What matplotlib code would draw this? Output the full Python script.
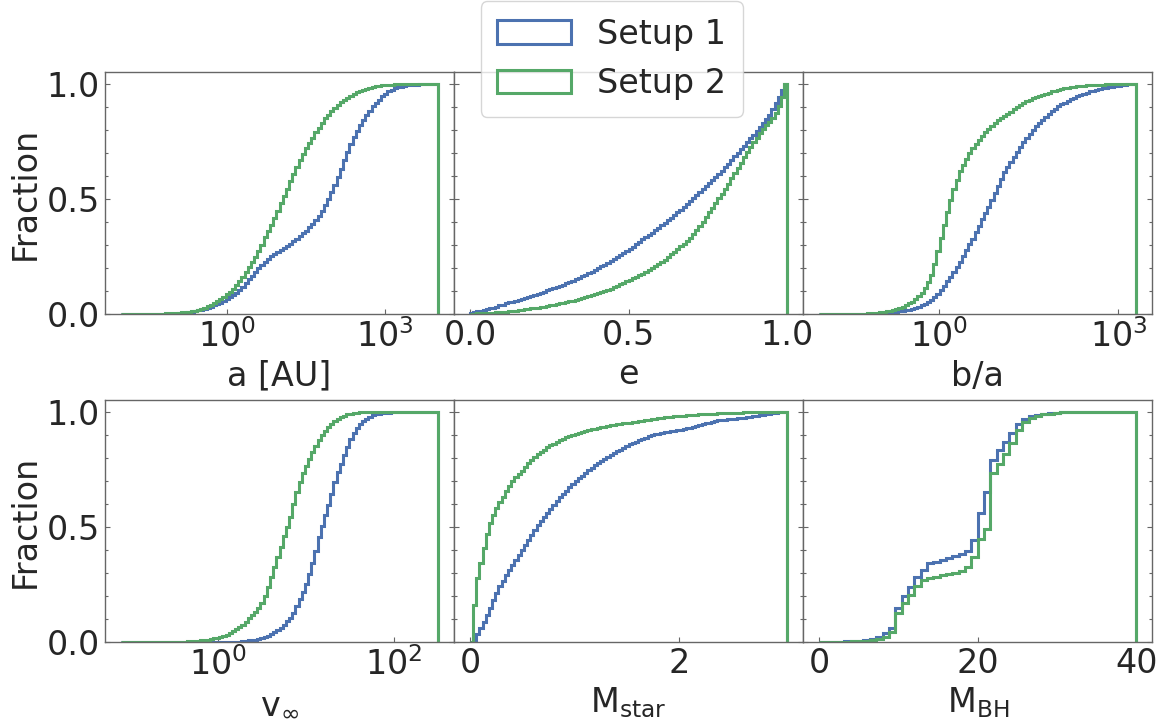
import numpy as np
import matplotlib
matplotlib.use("Agg")
import matplotlib.pyplot as plt
from matplotlib.ticker import MultipleLocator, NullLocator

# ---------------- data (cumulative fraction at the right edge of each bin) ----------------
series_labels = ["Setup 1", "Setup 2"]
series_colors = ["#4C72B0", "#55A868"]

# a [AU]  (log10 bin range, 100 bins)
a_log_range = (-2.0, 4.0)
a_cdf_setup1 = [0.000, 0.000, 0.000, 0.000, 0.000, 0.001, 0.001, 0.001, 0.001, 0.001,
                0.001, 0.002, 0.002, 0.002, 0.002, 0.003, 0.003, 0.004, 0.005, 0.006,
                0.007, 0.009, 0.011, 0.014, 0.018, 0.021, 0.025, 0.029, 0.034, 0.039,
                0.045, 0.051, 0.058, 0.066, 0.075, 0.085, 0.095, 0.106, 0.120, 0.135,
                0.152, 0.168, 0.184, 0.200, 0.215, 0.229, 0.241, 0.252, 0.262, 0.270,
                0.279, 0.288, 0.297, 0.307, 0.317, 0.328, 0.340, 0.352, 0.364, 0.378,
                0.393, 0.408, 0.427, 0.450, 0.475, 0.502, 0.530, 0.562, 0.596, 0.632,
                0.668, 0.705, 0.738, 0.768, 0.796, 0.820, 0.843, 0.864, 0.884, 0.902,
                0.918, 0.932, 0.946, 0.958, 0.967, 0.975, 0.981, 0.985, 0.988, 0.991,
                0.993, 0.995, 0.996, 0.997, 0.998, 0.999, 0.999, 1.000, 1.000, 1.000]
a_cdf_setup2 = [0.000, 0.000, 0.001, 0.001, 0.001, 0.001, 0.002, 0.002, 0.002, 0.003,
                0.003, 0.003, 0.004, 0.004, 0.005, 0.005, 0.006, 0.007, 0.008, 0.009,
                0.010, 0.012, 0.014, 0.017, 0.021, 0.025, 0.030, 0.036, 0.042, 0.048,
                0.058, 0.066, 0.076, 0.087, 0.099, 0.112, 0.126, 0.143, 0.162, 0.184,
                0.205, 0.228, 0.250, 0.275, 0.302, 0.335, 0.362, 0.390, 0.420, 0.450,
                0.482, 0.514, 0.546, 0.578, 0.610, 0.640, 0.668, 0.695, 0.720, 0.745,
                0.767, 0.789, 0.810, 0.830, 0.850, 0.866, 0.881, 0.895, 0.908, 0.920,
                0.931, 0.940, 0.949, 0.956, 0.963, 0.969, 0.974, 0.979, 0.983, 0.986,
                0.989, 0.991, 0.993, 0.995, 0.996, 0.997, 0.998, 0.999, 0.999, 1.000,
                1.000, 1.000, 1.000, 1.000, 1.000, 1.000, 1.000, 1.000, 1.000, 1.000]

# e (linear bin range, 100 bins)
e_range = (0.0, 1.0)
e_cdf_setup1 = [0.008, 0.011, 0.014, 0.017, 0.020, 0.023, 0.026, 0.030, 0.034, 0.039,
                0.043, 0.048, 0.052, 0.056, 0.060, 0.064, 0.068, 0.072, 0.077, 0.081,
                0.085, 0.089, 0.094, 0.099, 0.104, 0.109, 0.114, 0.119, 0.124, 0.129,
                0.135, 0.141, 0.147, 0.153, 0.159, 0.166, 0.172, 0.179, 0.186, 0.193,
                0.200, 0.208, 0.215, 0.223, 0.231, 0.239, 0.247, 0.256, 0.265, 0.274,
                0.284, 0.294, 0.304, 0.315, 0.325, 0.335, 0.345, 0.355, 0.366, 0.376,
                0.387, 0.398, 0.409, 0.420, 0.431, 0.443, 0.455, 0.467, 0.479, 0.492,
                0.504, 0.517, 0.529, 0.542, 0.555, 0.568, 0.581, 0.595, 0.609, 0.624,
                0.639, 0.654, 0.669, 0.685, 0.700, 0.716, 0.732, 0.748, 0.764, 0.780,
                0.796, 0.813, 0.830, 0.848, 0.867, 0.889, 0.915, 0.945, 0.972, 1.000]
e_cdf_setup2 = [0.003, 0.004, 0.005, 0.005, 0.006, 0.007, 0.007, 0.008, 0.009, 0.010,
                0.011, 0.012, 0.013, 0.015, 0.017, 0.019, 0.021, 0.023, 0.024, 0.026,
                0.028, 0.030, 0.032, 0.034, 0.036, 0.039, 0.042, 0.045, 0.048, 0.051,
                0.054, 0.057, 0.060, 0.063, 0.067, 0.071, 0.075, 0.079, 0.083, 0.088,
                0.092, 0.097, 0.102, 0.107, 0.112, 0.118, 0.124, 0.130, 0.136, 0.143,
                0.149, 0.156, 0.163, 0.170, 0.177, 0.185, 0.193, 0.201, 0.209, 0.218,
                0.228, 0.238, 0.249, 0.260, 0.271, 0.283, 0.295, 0.307, 0.320, 0.333,
                0.349, 0.365, 0.384, 0.403, 0.423, 0.443, 0.463, 0.484, 0.504, 0.524,
                0.546, 0.567, 0.590, 0.612, 0.635, 0.658, 0.681, 0.704, 0.727, 0.748,
                0.767, 0.785, 0.803, 0.820, 0.836, 0.852, 0.875, 0.905, 0.942, 1.000]

# b/a (log10 bin range, 100 bins)
ba_log_range = (-2.0, 3.3)
ba_cdf_setup1 = [0.000, 0.000, 0.000, 0.000, 0.000, 0.000, 0.001, 0.001, 0.001, 0.001,
                 0.001, 0.001, 0.002, 0.002, 0.002, 0.003, 0.003, 0.004, 0.004, 0.005,
                 0.006, 0.007, 0.008, 0.009, 0.011, 0.013, 0.015, 0.018, 0.021, 0.025,
                 0.029, 0.034, 0.040, 0.047, 0.055, 0.064, 0.075, 0.088, 0.105, 0.124,
                 0.144, 0.163, 0.182, 0.204, 0.229, 0.254, 0.279, 0.304, 0.329, 0.357,
                 0.384, 0.412, 0.439, 0.467, 0.497, 0.527, 0.557, 0.588, 0.618, 0.641,
                 0.663, 0.684, 0.705, 0.726, 0.746, 0.764, 0.782, 0.799, 0.815, 0.831,
                 0.845, 0.858, 0.870, 0.882, 0.893, 0.902, 0.911, 0.919, 0.927, 0.934,
                 0.940, 0.946, 0.952, 0.957, 0.962, 0.967, 0.971, 0.975, 0.978, 0.981,
                 0.984, 0.986, 0.988, 0.990, 0.992, 0.994, 0.996, 0.998, 0.999, 1.000]
ba_cdf_setup2 = [0.000, 0.000, 0.000, 0.000, 0.001, 0.001, 0.001, 0.001, 0.002, 0.002,
                 0.002, 0.003, 0.003, 0.004, 0.004, 0.005, 0.006, 0.007, 0.008, 0.009,
                 0.011, 0.014, 0.017, 0.020, 0.024, 0.028, 0.034, 0.040, 0.048, 0.056,
                 0.066, 0.078, 0.091, 0.115, 0.142, 0.172, 0.220, 0.275, 0.330, 0.388,
                 0.443, 0.497, 0.545, 0.585, 0.620, 0.648, 0.675, 0.700, 0.722, 0.741,
                 0.757, 0.772, 0.789, 0.805, 0.818, 0.831, 0.842, 0.852, 0.861, 0.870,
                 0.880, 0.889, 0.898, 0.907, 0.916, 0.924, 0.931, 0.937, 0.942, 0.947,
                 0.952, 0.957, 0.962, 0.967, 0.971, 0.974, 0.977, 0.980, 0.983, 0.985,
                 0.987, 0.989, 0.990, 0.992, 0.993, 0.994, 0.995, 0.996, 0.997, 0.997,
                 0.998, 0.998, 0.999, 0.999, 0.999, 1.000, 1.000, 1.000, 1.000, 1.000]

# v_inf (log10 bin range, 100 bins)
v_log_range = (-1.1, 2.5)
v_cdf_setup1 = [0.000, 0.000, 0.000, 0.000, 0.000, 0.000, 0.000, 0.000, 0.000, 0.000,
                0.000, 0.000, 0.000, 0.000, 0.000, 0.000, 0.000, 0.000, 0.000, 0.000,
                0.000, 0.000, 0.000, 0.000, 0.000, 0.000, 0.000, 0.000, 0.000, 0.000,
                0.000, 0.000, 0.000, 0.001, 0.001, 0.001, 0.002, 0.003, 0.004, 0.006,
                0.008, 0.010, 0.012, 0.015, 0.019, 0.024, 0.029, 0.035, 0.043, 0.053,
                0.063, 0.075, 0.092, 0.107, 0.127, 0.158, 0.188, 0.220, 0.255, 0.298,
                0.345, 0.395, 0.455, 0.505, 0.550, 0.595, 0.645, 0.695, 0.740, 0.775,
                0.812, 0.848, 0.880, 0.908, 0.930, 0.946, 0.960, 0.970, 0.978, 0.984,
                0.988, 0.991, 0.993, 0.995, 0.996, 0.997, 0.998, 0.999, 0.999, 1.000,
                1.000, 1.000, 1.000, 1.000, 1.000, 1.000, 1.000, 1.000, 1.000, 1.000]
v_cdf_setup2 = [0.000, 0.000, 0.000, 0.000, 0.000, 0.000, 0.000, 0.000, 0.000, 0.000,
                0.000, 0.001, 0.001, 0.001, 0.001, 0.001, 0.002, 0.002, 0.002, 0.003,
                0.003, 0.004, 0.005, 0.006, 0.007, 0.008, 0.010, 0.012, 0.014, 0.017,
                0.020, 0.023, 0.027, 0.032, 0.039, 0.047, 0.056, 0.066, 0.077, 0.090,
                0.104, 0.118, 0.132, 0.150, 0.172, 0.200, 0.240, 0.285, 0.328, 0.371,
                0.414, 0.460, 0.500, 0.545, 0.598, 0.650, 0.695, 0.735, 0.765, 0.795,
                0.825, 0.852, 0.877, 0.898, 0.917, 0.933, 0.947, 0.958, 0.968, 0.977,
                0.983, 0.988, 0.991, 0.994, 0.996, 0.997, 0.998, 0.999, 0.999, 1.000,
                1.000, 1.000, 1.000, 1.000, 1.000, 1.000, 1.000, 1.000, 1.000, 1.000,
                1.000, 1.000, 1.000, 1.000, 1.000, 1.000, 1.000, 1.000, 1.000, 1.000]

# M_star (linear bin range, 100 bins)
ms_range = (0.0, 3.03)
ms_cdf_setup1 = [0.000, 0.004, 0.035, 0.060, 0.088, 0.118, 0.150, 0.184, 0.214, 0.244,
                 0.268, 0.291, 0.313, 0.335, 0.356, 0.377, 0.401, 0.423, 0.445, 0.467,
                 0.489, 0.508, 0.526, 0.544, 0.562, 0.579, 0.596, 0.612, 0.628, 0.643,
                 0.658, 0.672, 0.686, 0.699, 0.711, 0.723, 0.735, 0.746, 0.757, 0.767,
                 0.776, 0.785, 0.794, 0.803, 0.812, 0.820, 0.828, 0.836, 0.844, 0.851,
                 0.858, 0.864, 0.870, 0.876, 0.882, 0.888, 0.893, 0.898, 0.902, 0.905,
                 0.908, 0.910, 0.913, 0.915, 0.918, 0.920, 0.922, 0.925, 0.928, 0.931,
                 0.934, 0.938, 0.942, 0.946, 0.950, 0.953, 0.956, 0.959, 0.962, 0.965,
                 0.966, 0.967, 0.968, 0.970, 0.971, 0.972, 0.974, 0.976, 0.978, 0.981,
                 0.983, 0.985, 0.987, 0.989, 0.991, 0.993, 0.995, 0.997, 0.999, 1.000]
ms_cdf_setup2 = [0.000, 0.160, 0.280, 0.345, 0.410, 0.468, 0.518, 0.552, 0.582, 0.607,
                 0.632, 0.655, 0.678, 0.700, 0.717, 0.731, 0.745, 0.762, 0.776, 0.790,
                 0.803, 0.815, 0.826, 0.836, 0.845, 0.854, 0.862, 0.869, 0.876, 0.883,
                 0.889, 0.895, 0.900, 0.905, 0.909, 0.913, 0.917, 0.920, 0.923, 0.926,
                 0.929, 0.932, 0.935, 0.938, 0.941, 0.943, 0.945, 0.947, 0.949, 0.951,
                 0.953, 0.955, 0.957, 0.959, 0.961, 0.963, 0.965, 0.967, 0.969, 0.971,
                 0.973, 0.975, 0.977, 0.978, 0.980, 0.981, 0.982, 0.983, 0.984, 0.985,
                 0.986, 0.987, 0.988, 0.989, 0.990, 0.991, 0.991, 0.992, 0.993, 0.993,
                 0.994, 0.994, 0.995, 0.995, 0.996, 0.996, 0.997, 0.997, 0.997, 0.998,
                 0.998, 0.998, 0.999, 0.999, 0.999, 0.999, 1.000, 1.000, 1.000, 1.000]

# M_BH (linear bin range, 50 bins)
mbh_range = (0.0, 40.0)
mbh_cdf_setup1 = [0.000, 0.000, 0.001, 0.002, 0.004, 0.005, 0.007, 0.009, 0.013, 0.023,
                  0.040, 0.060, 0.150, 0.200, 0.238, 0.285, 0.315, 0.342, 0.350, 0.358,
                  0.365, 0.373, 0.382, 0.395, 0.445, 0.560, 0.650, 0.790, 0.835, 0.868,
                  0.908, 0.945, 0.968, 0.982, 0.987, 0.991, 0.994, 0.996, 0.997, 0.998,
                  0.999, 0.999, 0.999, 0.999, 1.000, 1.000, 1.000, 1.000, 1.000, 1.000]
mbh_cdf_setup2 = [0.000, 0.000, 0.001, 0.002, 0.003, 0.004, 0.005, 0.006, 0.009, 0.015,
                  0.023, 0.045, 0.125, 0.170, 0.205, 0.245, 0.272, 0.281, 0.285, 0.290,
                  0.295, 0.302, 0.310, 0.325, 0.370, 0.450, 0.490, 0.733, 0.775, 0.815,
                  0.865, 0.920, 0.955, 0.972, 0.982, 0.988, 0.992, 0.995, 0.997, 0.998,
                  0.999, 0.999, 0.999, 0.999, 0.999, 0.999, 0.999, 0.999, 0.999, 1.000]

panels = [
    dict(xlabel="a [AU]", log=True, rng=a_log_range, cdfs=(a_cdf_setup1, a_cdf_setup2), ticks=[1, 1e3]),
    dict(xlabel="e", log=False, rng=e_range, cdfs=(e_cdf_setup1, e_cdf_setup2), ticks=[0.0, 0.5, 1.0]),
    dict(xlabel="b/a", log=True, rng=ba_log_range, cdfs=(ba_cdf_setup1, ba_cdf_setup2), ticks=[1, 1e3]),
    dict(xlabel=r"v$_{\infty}$", log=True, rng=v_log_range, cdfs=(v_cdf_setup1, v_cdf_setup2), ticks=[1, 1e2]),
    dict(xlabel=r"M$_{\rm star}$", log=False, rng=ms_range, cdfs=(ms_cdf_setup1, ms_cdf_setup2), ticks=[0, 2]),
    dict(xlabel=r"M$_{\rm BH}$", log=False, rng=mbh_range, cdfs=(mbh_cdf_setup1, mbh_cdf_setup2), ticks=[0, 20, 40]),
]

# ---------------- styling ----------------
TEXT = "#262626"
EDGE = "0.4"
plt.rcParams.update({
    "font.family": ["DejaVu Sans"],
    "mathtext.fontset": "dejavusans",
    "font.size": 24,
    "text.color": TEXT,
    "axes.labelcolor": TEXT,
    "axes.edgecolor": EDGE,
    "axes.linewidth": 1.0,
})

fig, axes = plt.subplots(2, 3, figsize=(11.61, 7.23), dpi=100, sharey=True)
fig.subplots_adjust(left=0.0904, right=0.9925, top=0.900, bottom=0.1116,
                    wspace=0.0, hspace=0.354)

handles = []
for ax, p in zip(axes.flat, panels):
    n = len(p["cdfs"][0])
    if p["log"]:
        edges = np.logspace(p["rng"][0], p["rng"][1], n + 1)
        centers = np.sqrt(edges[:-1] * edges[1:])
    else:
        edges = np.linspace(p["rng"][0], p["rng"][1], n + 1)
        centers = 0.5 * (edges[:-1] + edges[1:])
    for cdf, col, lab in zip(p["cdfs"], series_colors, series_labels):
        w = np.diff(np.concatenate([[0.0], np.asarray(cdf, float)]))
        _, _, patches = ax.hist(centers, bins=edges, weights=w, cumulative=True,
                                histtype="step", color=col, lw=2.2, label=lab)
        if ax is axes.flat[0]:
            handles.append(patches[0])
    if p["log"]:
        ax.set_xscale("log")
        ax.set_xticks(p["ticks"])
        ax.xaxis.set_minor_locator(NullLocator())
    else:
        ax.set_xticks(p["ticks"])
    ax.set_xlabel(p["xlabel"], fontsize=24)
    ax.set_ylim(0, 1.05)
    ax.set_yticks([0.0, 0.5, 1.0])
    ax.yaxis.set_minor_locator(MultipleLocator(0.1))
    ax.tick_params(axis="both", which="both", direction="in", color=EDGE,
                   labelcolor=TEXT, labelsize=24)
    ax.tick_params(axis="y", which="both", left=True, right=True)
    ax.tick_params(axis="x", which="both", top=False, bottom=True)
    ax.tick_params(which="major", length=3.5, width=0.8)
    ax.tick_params(which="minor", length=2.0, width=0.8)

for ax in axes[:, 0]:
    ax.set_ylabel("Fraction", fontsize=24)
for ax in axes[:, 1:].flat:
    ax.tick_params(axis="y", labelleft=False)

fig.legend(handles, series_labels, loc="upper center", bbox_to_anchor=(0.527, 1.0),
           fontsize=24, borderaxespad=0.03, borderpad=0.5, handlelength=2.2)

fig.savefig("out.png", dpi=100)
